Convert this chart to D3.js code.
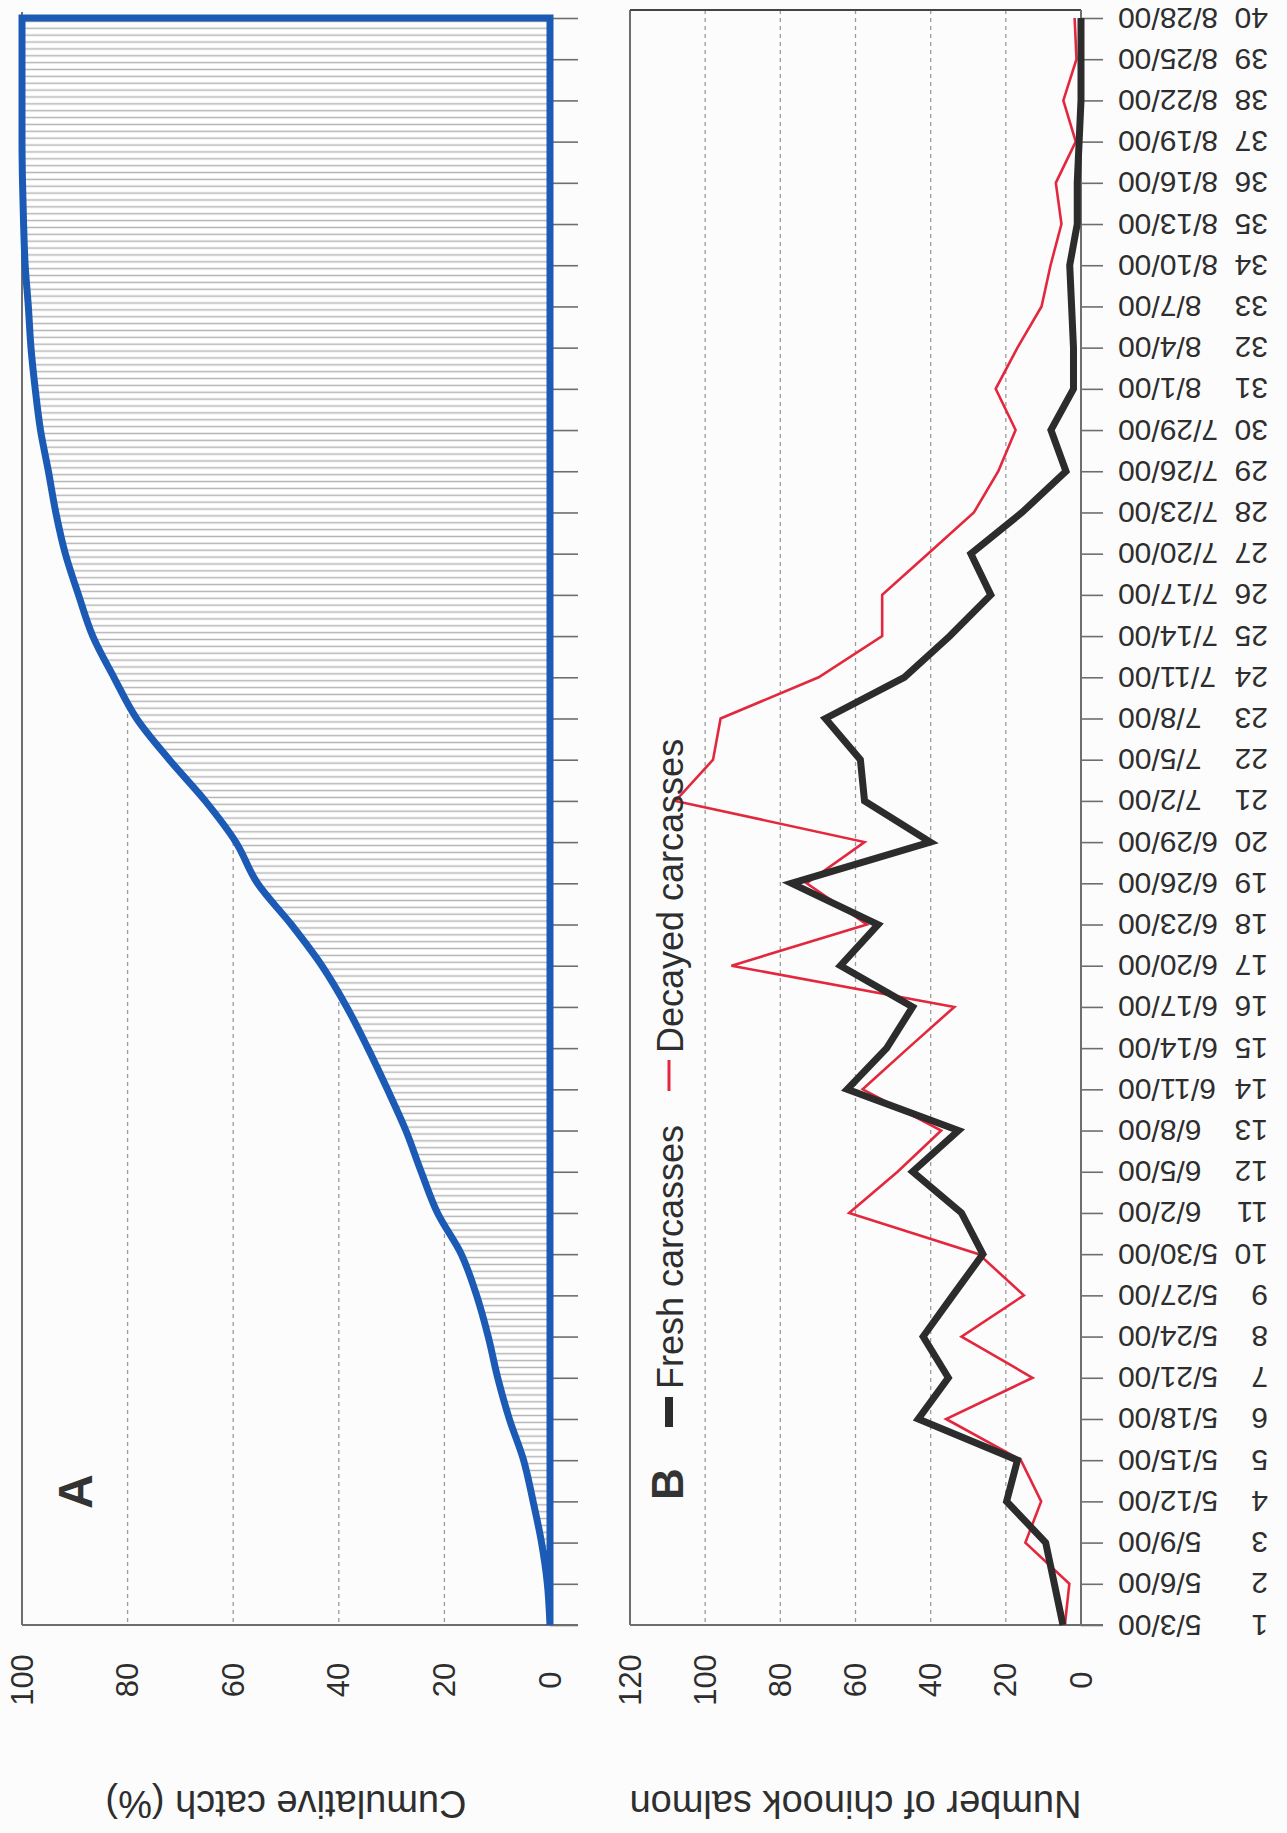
<!DOCTYPE html>
<html><head><meta charset="utf-8">
<script src="https://cdn.jsdelivr.net/npm/d3@7"></script>
<style>
html,body{margin:0;padding:0;background:#fff;}
svg{display:block;font-family:"Liberation Sans",Arial,Helvetica,sans-serif;}
</style></head><body>
<svg id="chart" width="1287" height="1833"></svg>
<script>
// ---------- data ----------
const sampleNumbers = [1,2,3,4,5,6,7,8,9,10,11,12,13,14,15,16,17,18,19,20,
  21,22,23,24,25,26,27,28,29,30,31,32,33,34,35,36,37,38,39,40];
const sampleDates = ["5/3/00","5/6/00","5/9/00","5/12/00","5/15/00","5/18/00","5/21/00","5/24/00",
  "5/27/00","5/30/00","6/2/00","6/5/00","6/8/00","6/11/00","6/14/00","6/17/00","6/20/00","6/23/00",
  "6/26/00","6/29/00","7/2/00","7/5/00","7/8/00","7/11/00","7/14/00","7/17/00","7/20/00","7/23/00",
  "7/26/00","7/29/00","8/1/00","8/4/00","8/7/00","8/10/00","8/13/00","8/16/00","8/19/00","8/22/00",
  "8/25/00","8/28/00"];
// Panel A: cumulative catch (%)
const cumulativeCatch = [0,0.5,1.6,3.2,5.0,7.7,9.9,11.7,13.9,16.8,21.3,24.4,27.3,30.8,34.5,38.5,
  43.2,49.0,55.4,59.5,65.3,72.1,78.3,82.6,86.6,89.3,91.8,93.6,95.0,96.5,97.5,98.3,98.8,99.4,99.7,
  99.9,100,100,100,100];
// Panel B: number of chinook salmon
const freshCarcasses = [4.8,7.1,9.4,19.8,16.9,43.3,35.3,42,34.1,26.1,31.8,44.8,32.6,62.2,51.7,44.8,
  64,54,77,40.1,57.6,58.7,68,47,34.9,24,29.3,15.7,4,8,2,2,2.5,3,1,1,0.5,0,0,0];
const decayedCarcasses = [4.3,3.1,14.8,10.6,16,35.9,12.9,31.8,15.2,27.2,61.7,48.8,37.2,58.1,46,33.7,
  93,57,73,57.6,107.9,97.9,95.9,69.8,52.9,52.9,40.7,28.5,22,17.4,22.7,16.9,10.5,8.1,5.2,6.7,1.4,4.7,
  1.2,1.7];
const catchTicks = [0,20,40,60,80,100];
const countTicks = [0,20,40,60,80,100,120];

// ---------- setup ----------
const svg = d3.select("#chart");
svg.append("rect").attr("width",1287).attr("height",1833).attr("fill","#fcfcfd");

const y  = d3.scaleLinear().domain([1,40]).range([1625,18]);
const xA = d3.scaleLinear().domain([0,100]).range([550,22]);
const xB = d3.scaleLinear().domain([0,120]).range([1081,630]);

const axisGrey = "#6e6e6e";
const labelCol = "#2e2e2e";

// hatch pattern for panel A area
const defs = svg.append("defs");
const ph = (y(1)-y(40))/234;
const pat = defs.append("pattern").attr("id","hatch").attr("patternUnits","userSpaceOnUse")
  .attr("width",40).attr("height",ph).attr("y",y(40));
pat.append("rect").attr("width",40).attr("height",ph).attr("fill","#ffffff");
pat.append("line").attr("x1",0).attr("x2",40).attr("y1",ph/2).attr("y2",ph/2)
  .attr("stroke","#b4b4b4").attr("stroke-width",1.7);

// ---------- Panel A ----------
const gA = svg.append("g");
gA.selectAll("line.grid").data(catchTicks.filter(v=>v>0&&v<100)).join("line")
  .attr("x1",d=>xA(d)).attr("x2",d=>xA(d)).attr("y1",y(40)).attr("y2",y(1))
  .attr("stroke","#9c9c9c").attr("stroke-width",1.3).attr("stroke-dasharray","4,4");

const dataA = sampleNumbers.map((n,i)=>({n, v:cumulativeCatch[i]}));
const areaA = d3.area().y(d=>y(d.n)).x0(xA(0)).x1(d=>xA(d.v)).curve(d3.curveMonotoneY);
gA.append("path").datum(dataA).attr("d",areaA).attr("fill","url(#hatch)");

// frame
gA.append("line").attr("x1",xA(100)).attr("x2",xA(100)).attr("y1",y(40)-6).attr("y2",y(1))
  .attr("stroke",axisGrey).attr("stroke-width",2);
const axA = d3.axisRight(y).tickValues(sampleNumbers).tickSize(28).tickFormat("");
gA.append("g").attr("transform",`translate(${xA(0)},0)`).call(axA)
  .call(g=>g.select(".domain").remove())
  .call(g=>g.selectAll(".tick line").attr("stroke",axisGrey).attr("stroke-width",1.6));
gA.append("line").attr("x1",xA(100)).attr("x2",xA(0)+28).attr("y1",y(1)).attr("y2",y(1))
  .attr("stroke",axisGrey).attr("stroke-width",2);
// blue outline
gA.append("path").datum(dataA).attr("d",areaA).attr("fill","none")
  .attr("stroke","#1c5bb5").attr("stroke-width",7).attr("stroke-linejoin","miter");

// value labels
gA.selectAll("text.val").data(catchTicks).join("text")
  .attr("transform",d=>`translate(${xA(d)},1680) rotate(-90)`)
  .attr("text-anchor","middle").attr("dominant-baseline","central")
  .attr("font-size",31).attr("fill",labelCol).text(d=>d);
gA.append("text").attr("transform",`translate(${(xA(0)+xA(100))/2},1804) rotate(180)`)
  .attr("text-anchor","middle").attr("dominant-baseline","central")
  .attr("font-size",38).attr("fill",labelCol).text("Cumulative catch (%)");
gA.append("text").attr("transform","translate(92,1509) rotate(-90)")
  .attr("font-size",48).attr("font-weight","bold").attr("fill","#333").text("A");

// ---------- Panel B ----------
const gB = svg.append("g");
gB.selectAll("line.grid").data(countTicks.filter(v=>v>0&&v<120)).join("line")
  .attr("x1",d=>xB(d)).attr("x2",d=>xB(d)).attr("y1",10).attr("y2",y(1))
  .attr("stroke","#9c9c9c").attr("stroke-width",1.3).attr("stroke-dasharray","4,4");
// frame
gB.append("line").attr("x1",xB(120)).attr("x2",xB(120)).attr("y1",10).attr("y2",y(1))
  .attr("stroke",axisGrey).attr("stroke-width",2);
gB.append("line").attr("x1",xB(120)).attr("x2",xB(0)).attr("y1",10).attr("y2",10)
  .attr("stroke","#444").attr("stroke-width",2);
gB.append("line").attr("x1",xB(0)).attr("x2",xB(0)).attr("y1",10).attr("y2",y(1))
  .attr("stroke",axisGrey).attr("stroke-width",2);
gB.append("line").attr("x1",xB(120)).attr("x2",xB(0)+22).attr("y1",y(1)).attr("y2",y(1))
  .attr("stroke",axisGrey).attr("stroke-width",2);
const axB = d3.axisRight(y).tickValues(sampleNumbers).tickSize(22).tickFormat("");
gB.append("g").attr("transform",`translate(${xB(0)},0)`).call(axB)
  .call(g=>g.select(".domain").remove())
  .call(g=>g.selectAll(".tick line").attr("stroke",axisGrey).attr("stroke-width",1.6));

// series
const lineB = d3.line().x(d=>xB(d.v)).y(d=>y(d.n));
gB.append("path").datum(sampleNumbers.map((n,i)=>({n,v:decayedCarcasses[i]})))
  .attr("d",lineB).attr("fill","none").attr("stroke","#e3283e").attr("stroke-width",2.6)
  .attr("stroke-linejoin","miter");
gB.append("path").datum(sampleNumbers.map((n,i)=>({n,v:freshCarcasses[i]})))
  .attr("d",lineB).attr("fill","none").attr("stroke","#2c2c2c").attr("stroke-width",7)
  .attr("stroke-linejoin","miter");

// date labels
gB.selectAll("text.num").data(sampleNumbers).join("text")
  .attr("transform",d=>`translate(1268,${y(d)}) rotate(180)`)
  .attr("text-anchor","start").attr("dominant-baseline","central")
  .attr("font-size",30).attr("fill",labelCol).text(d=>d);
gB.selectAll("text.date").data(sampleNumbers).join("text")
  .attr("transform",d=>`translate(1118,${y(d)}) rotate(180)`)
  .attr("text-anchor","end").attr("dominant-baseline","central")
  .attr("font-size",30).attr("fill",labelCol).text((d,i)=>sampleDates[i]);

// value labels
gB.selectAll("text.val").data(countTicks).join("text")
  .attr("transform",d=>`translate(${xB(d)},1680) rotate(-90)`)
  .attr("text-anchor","middle").attr("dominant-baseline","central")
  .attr("font-size",31).attr("fill",labelCol).text(d=>d);
gB.append("text").attr("transform",`translate(${(xB(0)+xB(120))/2},1804) rotate(180)`)
  .attr("text-anchor","middle").attr("dominant-baseline","central")
  .attr("font-size",38).attr("fill",labelCol).text("Number of chinook salmon");

// legend
const leg = gB.append("g");
leg.append("text").attr("transform","translate(683,1500) rotate(-90)")
  .attr("font-size",44).attr("font-weight","bold").attr("fill","#333").text("B");
leg.append("line").attr("x1",669).attr("x2",669).attr("y1",1427).attr("y2",1397)
  .attr("stroke","#2c2c2c").attr("stroke-width",8);
leg.append("text").attr("transform","translate(683,1389) rotate(-90)")
  .attr("font-size",36).attr("fill",labelCol).text("Fresh carcasses");
leg.append("line").attr("x1",669).attr("x2",669).attr("y1",1091).attr("y2",1060)
  .attr("stroke","#e3283e").attr("stroke-width",3);
leg.append("text").attr("transform","translate(683,1053) rotate(-90)")
  .attr("font-size",36).attr("fill",labelCol).text("Decayed carcasses");
</script>
</body></html>
